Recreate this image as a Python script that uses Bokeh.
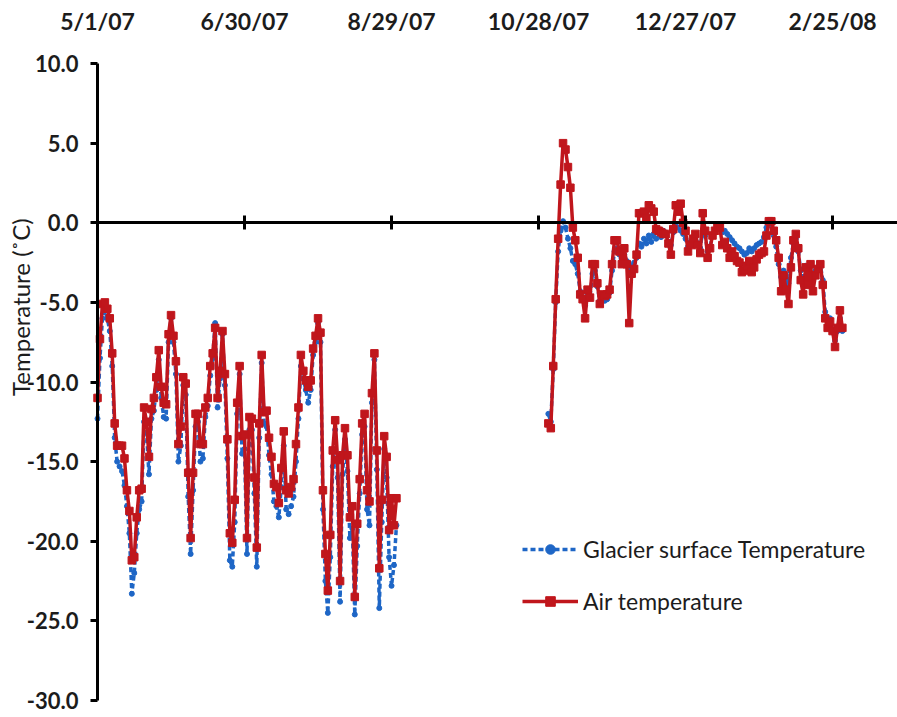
import numpy as np
import pandas as pd
from bokeh.plotting import figure
from bokeh.models import (ColumnDataSource, Range1d, LinearAxis, FixedTicker,
                          NumeralTickFormatter, Legend, LegendItem, Label, LabelSet)
from bokeh.core.properties import value
from bokeh.embed import file_html
from bokeh.resources import INLINE

# ---- daily mean temperatures (°C) ----
summer_start = "2007-05-01"
air_summer = [
    -11.0, -7.3, -5.1, -5.0, -5.4, -6.0, -8.2, -12.6, -14.0, -14.0,
    -14.0, -14.8, -16.8, -18.1, -21.2, -21.0, -18.5, -16.8, -16.7, -11.6,
    -12.5, -14.7, -11.7, -11.0, -9.7, -8.0, -10.3, -11.3, -11.4, -7.0,
    -5.8, -7.1, -8.7, -13.9, -12.8, -9.7, -10.1, -15.7, -19.8, -15.7,
    -12.0, -12.0, -13.9, -13.9, -11.6, -11.0, -9.0, -8.2, -6.6, -11.0,
    -9.3, -6.8, -9.5, -13.6, -19.5, -20.1, -17.4, -11.3, -9.0, -13.4,
    -13.3, -19.8, -12.2, -12.3, -16.0, -20.4, -12.6, -8.3, -11.9, -11.8,
    -13.5, -14.7, -16.4, -16.6, -17.6, -15.4, -13.1, -16.8, -17.0, -16.6,
    -16.1, -13.9, -11.6, -8.3, -9.3, -9.9, -10.3, -9.9, -7.9, -7.1,
    -6.0, -6.9, -16.8, -20.8, -23.1, -19.6, -14.3, -12.4, -14.9, -22.5,
    -14.6, -12.9, -14.6, -18.5, -17.8, -23.5, -18.9, -16.1, -12.6, -12.0,
    -16.8, -17.5, -10.7, -8.2, -14.3, -21.7, -17.4, -13.4, -14.7, -19.3,
    -17.3, -19.0, -17.3,
]
glacier_summer = [
    -12.3, -8.5, -6.0, -5.5, -6.0, -6.8, -9.0, -13.5, -15.0, -15.3,
    -15.6, -16.5, -17.8, -19.5, -23.3, -22.0, -19.5, -18.0, -17.5, -12.5,
    -13.2, -15.8, -12.3, -11.8, -10.5, -8.6, -11.0, -12.2, -12.3, -7.5,
    -6.0, -7.5, -9.5, -15.0, -14.0, -10.2, -10.8, -17.2, -20.8, -16.8,
    -12.8, -12.5, -15.0, -14.8, -12.2, -11.5, -9.6, -8.5, -6.3, -11.6,
    -9.8, -7.0, -10.2, -14.8, -21.2, -21.6, -18.8, -12.0, -9.5, -14.5,
    -14.2, -20.8, -13.0, -13.0, -17.0, -21.6, -13.5, -8.8, -12.6, -12.8,
    -14.6, -15.8, -17.5, -17.8, -18.5, -16.6, -14.0, -18.0, -18.3, -17.8,
    -17.2, -15.0, -12.3, -9.0, -9.8, -10.5, -11.3, -10.5, -8.3, -7.5,
    -6.3, -7.5, -18.0, -22.5, -24.5, -21.0, -15.3, -13.0, -16.0, -23.8,
    -15.8, -13.6, -15.6, -19.8, -19.2, -24.6, -20.3, -17.0, -13.3, -12.8,
    -18.0, -19.0, -11.3, -8.6, -15.5, -24.2, -18.8, -14.2, -16.0, -21.0,
    -22.8, -21.5, -19.0,
]

winter_start = "2007-11-01"
air_winter = [
    -12.6, -12.9, -9.0, -4.8, -1.0, 2.4, 5.0, 4.6, 3.5, 2.2,
    -0.3, -1.1, -2.2, -4.5, -4.8, -6.0, -4.2, -4.7, -2.6, -2.6,
    -3.8, -5.1, -4.5, -4.6, -4.5, -4.2, -2.6, -1.1, -1.1, -1.8,
    -2.6, -1.6, -2.6, -6.3, -3.2, -2.9, -2.0, 0.6, 0.6, 0.7,
    0.3, 1.1, 0.9, 0.7, -0.4, -0.5, -0.6, -0.7, -0.7, -1.3,
    -2.0, -0.4, 1.1, 0.7, 1.2, 0.0, -0.5, -1.8, -1.4, -1.0,
    -0.7, -1.4, -1.9, 0.6, -0.5, -2.2, -1.6, -0.8, -0.5, -0.3,
    -0.3, -1.4, -1.2, -1.6, -2.2, -1.8, -2.1, -2.4, -2.5, -3.1,
    -3.0, -2.7, -2.4, -3.1, -2.8, -2.3, -2.0, -1.9, -1.8, -0.8,
    0.1, 0.1, -0.5, -1.1, -2.2, -4.3, -3.3, -4.2, -5.1, -2.8,
    -1.1, -0.7, -1.6, -3.6, -4.5, -2.8, -3.9, -2.6, -4.3, -3.3,
    -2.9, -2.6, -3.9, -6.0, -6.6, -6.2, -6.8, -7.8, -6.6, -5.5, -6.6,
]
glacier_winter = [
    -12.0, -12.5, -9.2, -5.0, -1.8, -0.5, 0.1, -0.3, -1.0, -1.6,
    -2.4, -2.6, -3.2, -4.3, -4.8, -5.2, -4.5, -4.6, -3.2, -3.0,
    -4.0, -4.9, -4.8, -4.9, -4.8, -4.4, -3.0, -1.8, -1.6, -2.0,
    -2.6, -2.0, -2.4, -2.9, -2.7, -2.5, -2.2, -1.3, -1.5, -1.0,
    -1.3, -0.8, -1.2, -0.7, -1.0, -0.6, -0.9, -0.5, -0.8, -1.2,
    -1.4, -0.6, -0.2, -0.3, -0.5, -0.7, -1.0, -1.5, -1.2, -1.0,
    -0.9, -1.3, -1.6, -0.5, -0.8, -1.8, -1.5, -0.8, -0.6, -0.4,
    -0.4, -0.6, -0.5, -0.7, -0.9, -1.1, -1.3, -1.5, -1.6, -1.8,
    -2.0, -1.9, -1.6, -1.8, -1.6, -1.4, -1.3, -1.2, -0.9, -0.3,
    0.0, -0.2, -0.8, -1.5, -2.6, -3.4, -3.0, -3.3, -3.8, -2.2,
    -1.3, -1.0, -1.8, -3.0, -3.4, -2.7, -3.2, -2.6, -3.4, -3.0,
    -2.8, -2.6, -3.6, -5.6, -6.2, -6.0, -6.8, -7.4, -6.8, -6.0, -6.8,
]

# ---- axis settings ----
date_ticks = ["2007-05-01", "2007-06-30", "2007-08-29",
              "2007-10-28", "2007-12-27", "2008-02-25"]
date_labels = ["5/1/07", "6/30/07", "8/29/07", "10/28/07", "12/27/07", "2/25/08"]
temp_ticks = [-30, -25, -20, -15, -10, -5, 0, 5, 10]
temp_min, temp_max = -30, 10

AIR = "#C0161C"
GLACIER = "#1E66C6"
FONT = "Lato"
INK = "#1c1c1c"

DAY = 86_400_000  # ms


def ms(d):
    return pd.Timestamp(d).value // 10**6


def daily(start, vals):
    return ColumnDataSource(dict(
        date=pd.date_range(start, periods=len(vals), freq="D"),
        temp=vals,
    ))


# The frame fills the canvas; axes are pinned inside it.
origin = ms(date_ticks[0])
x_range = Range1d(origin - 39.6 * DAY, origin + 326.5 * DAY)
y_range = Range1d(-31.07, 13.96)

p = figure(width=897, height=717, x_axis_type=None, y_axis_type=None,
           x_range=x_range, y_range=y_range,
           toolbar_location=None, output_backend="svg",
           min_border=0, outline_line_color=None,
           background_fill_color="white", border_fill_color="white")

tick_ms = [ms(d) for d in date_ticks]

# temperature axis, standing on 5/1/07
yaxis = LinearAxis(ticker=FixedTicker(ticks=temp_ticks), fixed_location=origin,
                   bounds=(temp_min, temp_max),
                   formatter=NumeralTickFormatter(format="0.0"),
                   axis_line_width=3, axis_line_color="black",
                   major_tick_line_width=3, major_tick_in=0, major_tick_out=7,
                   minor_tick_line_color=None, major_label_standoff=12,
                   major_label_text_font=FONT, major_label_text_font_style="bold",
                   major_label_text_font_size="22px", major_label_text_color=INK)
p.add_layout(yaxis, "left")

# horizontal axis crossing at 0 °C
zero_axis = LinearAxis(ticker=FixedTicker(ticks=tick_ms), fixed_location=0,
                       bounds=(origin, x_range.end),
                       major_label_overrides={t: "" for t in tick_ms},
                       axis_line_width=3, axis_line_color="black",
                       major_tick_line_width=3, major_tick_in=7, major_tick_out=7,
                       minor_tick_line_color=None, major_label_standoff=0)
p.add_layout(zero_axis, "below")

# date labels along the top of the chart, one per major tick
date_src = ColumnDataSource(dict(date=tick_ms, label=date_labels))
p.add_layout(LabelSet(x="date", y=12.08, text="label", source=date_src,
                      text_align="center", text_baseline="alphabetic",
                      text_font=value(FONT), text_font_style=value("bold"),
                      text_font_size=value("23px"), text_color=INK))

# glacier surface series (dashed, small dots)
g_items = []
for start, vals in [(summer_start, glacier_summer), (winter_start, glacier_winter)]:
    src = daily(start, vals)
    gl = p.line("date", "temp", source=src, line_color=GLACIER, line_width=3.5,
                line_dash="5 3")
    gm = p.scatter("date", "temp", source=src, marker="circle", size=5,
                   color=GLACIER)
    g_items += [gl, gm]

# air temperature series (solid, square markers)
a_items = []
for start, vals in [(summer_start, air_summer), (winter_start, air_winter)]:
    src = daily(start, vals)
    al = p.line("date", "temp", source=src, line_color=AIR, line_width=3.5)
    am = p.scatter("date", "temp", source=src, marker="square", size=7.5,
                   color=AIR)
    a_items += [al, am]

legend = Legend(items=[
    LegendItem(label="Glacier surface Temperature", renderers=g_items[:2]),
    LegendItem(label="Air temperature", renderers=a_items[:2]),
], location=(522, 102), border_line_color=None, background_fill_alpha=0,
    label_text_font=FONT, label_text_font_size="23px", label_text_color=INK,
    glyph_width=56, glyph_height=24, spacing=24, label_standoff=5,
    padding=0, margin=0)
p.add_layout(legend)

# vertical axis title
p.add_layout(Label(x=20, y=-5.3, x_units="screen", y_units="data",
                   text="Temperature (˚C)", angle=np.pi / 2,
                   text_align="center", text_baseline="middle",
                   text_font=FONT, text_font_size="24px", text_color=INK))

open("out.html", "w").write(file_html(p, INLINE))
